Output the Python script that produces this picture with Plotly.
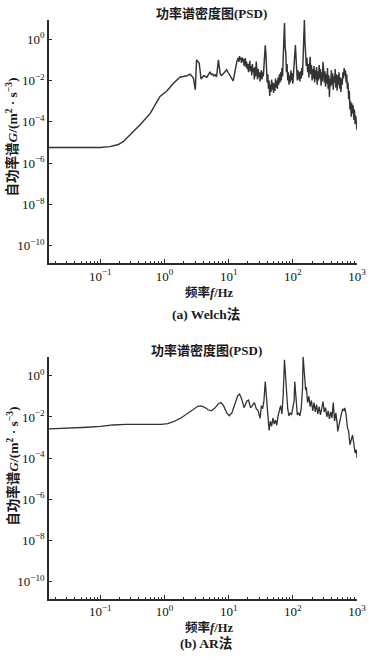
import numpy as np
import plotly.graph_objects as go

# ---------------- data (log10 values) ----------------
welch_log_f = [
    -1.80, -1.50, -1.20, -1.00, -0.85, -0.78, -0.72, -0.64, -0.53, -0.38, -0.22, -0.07, 0.04, 0.14, 0.24,
    0.35, 0.40, 0.45, 0.48, 0.50, 0.54, 0.57, 0.61, 0.66,
    0.71, 0.73, 0.75, 0.77, 0.79, 0.81, 0.83, 0.84, 0.85, 0.87, 0.89, 0.91, 0.93, 0.95, 0.97, 0.99,
    1.01, 1.03, 1.05, 1.07, 1.09, 1.11, 1.13, 1.15, 1.16, 1.17, 1.18, 1.19, 1.20, 1.21, 1.22, 1.23,
    1.24, 1.25, 1.26, 1.27, 1.28, 1.29, 1.30, 1.31, 1.32, 1.33, 1.34, 1.35, 1.36, 1.37, 1.38, 1.39,
    1.40, 1.41, 1.42, 1.43, 1.44, 1.45, 1.46, 1.47, 1.48, 1.49, 1.50, 1.51, 1.52, 1.53, 1.54, 1.55,
    1.56, 1.57, 1.58, 1.59, 1.60, 1.61, 1.62, 1.63, 1.64, 1.65, 1.66, 1.67, 1.68, 1.69, 1.70, 1.71,
    1.72, 1.73, 1.74, 1.75, 1.76, 1.77, 1.78, 1.79, 1.80, 1.81, 1.82, 1.83, 1.84, 1.85, 1.86, 1.87,
    1.88, 1.89, 1.90, 1.91, 1.92, 1.93, 1.94, 1.95, 1.96, 1.97, 1.98, 1.99, 2.00, 2.01, 2.02, 2.03,
    2.04, 2.05, 2.06, 2.07, 2.08, 2.09, 2.10, 2.11, 2.12, 2.13, 2.14, 2.15, 2.16, 2.17, 2.18, 2.19,
    2.20, 2.21, 2.22, 2.23, 2.24, 2.25, 2.26, 2.27, 2.28, 2.29, 2.30, 2.31, 2.32, 2.33, 2.34, 2.35,
    2.36, 2.37, 2.38, 2.39, 2.40, 2.41, 2.42, 2.43, 2.44, 2.45, 2.46, 2.47, 2.48, 2.49, 2.50, 2.51,
    2.52, 2.53, 2.54, 2.55, 2.56, 2.57, 2.58, 2.59, 2.60, 2.61, 2.62, 2.63, 2.64, 2.65, 2.66, 2.67,
    2.68, 2.69, 2.70, 2.71, 2.72, 2.73, 2.74, 2.75, 2.76, 2.77, 2.78, 2.79, 2.80, 2.81, 2.82, 2.83,
    2.84, 2.85, 2.86, 2.87, 2.88, 2.89, 2.90, 2.91, 2.92, 2.93, 2.94, 2.95, 2.96, 2.97, 2.98, 2.99, 3.00,
]
welch_log_psd = [
    -5.24, -5.25, -5.25, -5.24, -5.20, -5.15, -5.10, -4.95, -4.62, -4.14, -3.58, -2.77, -2.50, -2.13, -1.84,
    -1.77, -1.69, -1.88, -2.45, -1.00, -1.15, -1.93, -1.77, -1.84,
    -1.58, -1.72, -1.68, -1.78, -1.72, -1.82, -1.30, -1.00, -1.25, -1.70, -1.76, -1.66, -1.62, -1.55, -1.48, -1.60,
    -1.70, -1.82, -1.95, -2.02, -1.70, -1.30, -1.05, -0.90, -1.10, -0.82, -1.00, -0.90, -1.15, -0.88, -1.08, -0.95,
    -1.30, -1.05, -0.92, -1.35, -1.10, -1.45, -1.20, -1.60, -1.25, -1.05, -1.55, -1.30, -1.75, -1.20, -1.60, -1.40,
    -1.95, -1.35, -1.80, -1.08, -1.50, -1.95, -1.45, -1.85, -1.60, -2.05, -1.70, -1.50, -1.95, -1.60, -1.80, -1.30,
    -0.80, -0.30, -0.70, -1.50, -2.10, -1.70, -2.40, -2.00, -2.75, -2.20, -2.55, -1.95, -2.45, -2.10, -2.60, -2.15,
    -2.50, -1.90, -2.35, -2.00, -2.40, -1.85, -2.20, -1.70, -2.10, -1.60, -2.00, -1.40, -1.80, -0.90, -0.20, 0.78,
    -0.40, -0.65, -1.60, -1.20, -2.00, -1.60, -2.20, -1.75, -2.10, -1.50, -2.00, -1.65, -2.15, -1.70, -1.40, -0.60,
    -0.28, -0.90, -1.70, -2.00, -1.50, -1.95, -1.60, -2.05, -1.55, -1.90, -1.40, -1.75, -0.90, 0.20, 0.93, -0.20,
    -0.60, -1.30, -0.90, -1.60, -1.20, -1.85, -1.30, -0.85, -1.70, -1.25, -2.00, -1.45, -1.90, -1.30, -2.10, -1.50,
    -1.95, -1.35, -2.20, -1.55, -2.00, -1.25, -1.90, -1.45, -2.25, -1.60, -2.05, -1.10, -1.50, -2.10, -1.55, -2.30,
    -1.70, -2.15, -1.40, -2.40, -1.75, -2.80, -1.90, -2.30, -1.50, -2.20, -1.65, -2.45, -1.80, -2.10, -1.45, -2.35,
    -1.70, -2.50, -1.75, -2.20, -1.60, -2.40, -1.85, -2.55, -1.90, -2.20, -1.60, -1.90, -1.40, -1.75, -1.50, -2.10,
    -1.70, -2.40, -2.10, -2.90, -2.50, -3.40, -3.00, -3.75, -3.10, -3.60, -3.20, -3.90, -3.40, -4.10, -3.70, -4.25, -4.40,
]

ar_log_f = [
    -1.80, -1.50, -1.20, -1.00, -0.80, -0.60, -0.40, -0.20, -0.05, 0.05, 0.15, 0.25, 0.35, 0.45, 0.52,
    0.57, 0.62, 0.68, 0.73, 0.78, 0.84, 0.88, 0.92, 0.97, 1.01, 1.05, 1.10, 1.14, 1.17, 1.20, 1.24,
    1.28, 1.31, 1.34, 1.37, 1.40, 1.43, 1.46, 1.49, 1.51, 1.53, 1.55, 1.57, 1.59, 1.61, 1.63, 1.65,
    1.67, 1.69, 1.71, 1.73, 1.75, 1.77, 1.79, 1.81, 1.83, 1.85, 1.87, 1.89, 1.90, 1.92, 1.94, 1.96,
    1.98, 2.00, 2.02, 2.03, 2.05, 2.07, 2.09, 2.11, 2.13, 2.15, 2.16, 2.18, 2.20, 2.21, 2.23, 2.25,
    2.27, 2.29, 2.31, 2.33, 2.35, 2.37, 2.39, 2.41, 2.43, 2.45, 2.47, 2.49, 2.51, 2.53, 2.55, 2.57,
    2.59, 2.61, 2.63, 2.65, 2.67, 2.69, 2.70, 2.72, 2.74, 2.76, 2.78, 2.80, 2.81, 2.83, 2.85, 2.87,
    2.89, 2.91, 2.93, 2.95, 2.97, 2.99, 3.00,
]
ar_log_psd = [
    -2.58, -2.55, -2.50, -2.46, -2.39, -2.36, -2.36, -2.37, -2.36, -2.32, -2.22, -2.06, -1.84, -1.60, -1.48,
    -1.46, -1.52, -1.65, -1.70, -1.58, -1.36, -1.30, -1.45, -1.80, -1.94, -1.80, -1.30, -0.98, -0.89, -1.10, -1.55,
    -1.25, -1.18, -1.55, -1.45, -1.30, -1.60, -1.70, -2.07, -1.45, -1.60, -1.20, -0.28, -1.20, -2.10, -2.65, -2.20,
    -2.45, -2.05, -2.35, -2.15, -2.40, -1.95, -1.75, -1.45, -1.85, -0.90, 0.78, -0.30, -1.00, -1.60, -1.95, -1.80,
    -1.90, -1.60, -1.20, -0.28, -1.20, -1.90, -1.80, -1.95, -1.60, -0.70, 0.94, -0.20, -0.70, -0.55, -1.30, -1.00,
    -1.50, -1.20, -1.70, -1.30, -1.75, -1.40, -1.85, -1.50, -1.90, -1.60, -1.25, -1.75, -1.55, -2.00, -1.70, -2.10,
    -1.75, -2.05, -1.30, -2.20, -1.80, -2.30, -2.70, -2.40, -2.00, -1.80, -1.60, -1.70, -1.56, -1.90, -2.50, -2.70,
    -3.35, -3.05, -2.88, -3.30, -3.75, -3.60, -4.00,
]

x_tick_vals = [0.1, 1, 10, 100, 1000]
x_tick_text = ["10<sup>−1</sup>", "10<sup>0</sup>", "10<sup>1</sup>", "10<sup>2</sup>", "10<sup>3</sup>"]
y_tick_vals = [1, 1e-2, 1e-4, 1e-6, 1e-8, 1e-10]
y_tick_text = ["10<sup>0</sup>", "10<sup>−2</sup>", "10<sup>−4</sup>", "10<sup>−6</sup>",
               "10<sup>−8</sup>", "10<sup>−10</sup>"]
x_minor_vals = [m * 10.0 ** e for e in range(-2, 3) for m in range(2, 10)]

panel_title = "功率谱密度图(PSD)"
captions = ["(a) Welch法", "(b) AR法"]
x_title = "频率<i>f</i>/Hz"
y_title = "自功率谱<i>G</i>/(m<sup>2</sup> · s<sup>−3</sup>)"

# ---------------- figure ----------------
FONT = "Liberation Serif, Noto Sans CJK SC, serif"
LINE = "#333333"
AXC = "#2b2b2b"

fig = go.Figure()
fig.add_trace(go.Scatter(x=np.power(10.0, welch_log_f), y=np.power(10.0, welch_log_psd),
                         mode="lines", line=dict(color=LINE, width=1.45),
                         xaxis="x", yaxis="y", showlegend=False))
fig.add_trace(go.Scatter(x=np.power(10.0, ar_log_f), y=np.power(10.0, ar_log_psd),
                         mode="lines", line=dict(color=LINE, width=1.3),
                         xaxis="x2", yaxis="y2", showlegend=False))

xax = dict(type="log", range=[-1.80, 3.0], showgrid=False, zeroline=False, automargin=False,
           showline=True, linecolor=AXC, linewidth=1.6,
           ticks="inside", ticklen=4, tickwidth=1, tickcolor=AXC,
           tickmode="array", tickvals=x_tick_vals, ticktext=x_tick_text,
           tickfont=dict(family=FONT, size=13, color="#111"),
           minor=dict(tickmode="array", tickvals=x_minor_vals, ticks="inside",
                      ticklen=2.5, tickwidth=1, tickcolor=AXC, showgrid=False))
yax = dict(type="log", range=[-10.85, 0.93], showgrid=False, zeroline=False, automargin=False,
           showline=True, linecolor=AXC, linewidth=1.6,
           ticks="inside", ticklen=3, tickwidth=1, tickcolor=AXC,
           tickmode="array", tickvals=y_tick_vals, ticktext=y_tick_text,
           tickfont=dict(family=FONT, size=13, color="#111"))

top_dom = [0.5798, 1.0]
bot_dom = [0.0, 0.4185]

fig.update_layout(
    width=372, height=660,
    margin=dict(l=48.5, r=15, t=20, b=61, autoexpand=False),
    paper_bgcolor="white", plot_bgcolor="white",
    xaxis=dict(xax, domain=[0, 1], anchor="y"),
    yaxis=dict(yax, domain=top_dom, anchor="x"),
    xaxis2=dict(xax, domain=[0, 1], anchor="y2"),
    yaxis2=dict(yax, domain=bot_dom, anchor="x2"),
)

def ann(text, x, y, size, bold=False, angle=0):
    t = f"<b>{text}</b>" if bold else text
    fig.add_annotation(text=t, x=x, y=y, xref="paper", yref="paper",
                       xanchor="center", yanchor="middle", showarrow=False,
                       textangle=angle, font=dict(family=FONT, size=size, color="#1a1a1a"))

# titles
ann(panel_title, 0.527, 1.0104, 13, bold=True)
ann(panel_title, 0.512, 0.430, 13, bold=True)
# x titles
ann(x_title, 0.52, 0.5285, 12.5, bold=True)
ann(x_title, 0.52, -0.0484, 12.5, bold=True)
# captions
ann(captions[0], 0.51, 0.4922, 13.5, bold=True)
ann(captions[1], 0.51, -0.076, 13.5, bold=True)
# y titles
ann(y_title, -0.118, 0.798, 13.5, bold=True, angle=-90)
ann(y_title, -0.118, 0.2297, 13.5, bold=True, angle=-90)

fig.write_html("out.html", config={"displayModeBar": False},
               post_script="document.body.style.margin='0';document.body.style.padding='0';")
